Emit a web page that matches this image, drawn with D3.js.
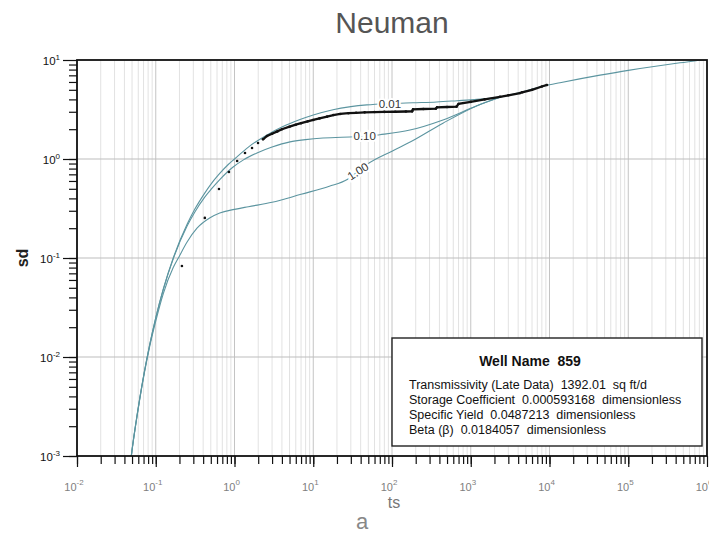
<!DOCTYPE html>
<html>
<head>
<meta charset="utf-8">
<script src="https://cdn.jsdelivr.net/npm/d3@7"></script>
<style>
  html, body { margin: 0; padding: 0; background: #fff; }
  svg { display: block; font-family: 'Liberation Sans', Arial, sans-serif; }
</style>
</head>
<body>
<svg id="chart" width="709" height="535"></svg>
<script>
// Neuman type curves
const beta001Ts = [0.048, 0.05, 0.0556, 0.0625, 0.0714, 0.0833, 0.1, 0.125, 0.1667, 0.25, 0.3125, 0.4167, 0.5, 0.625, 0.833, 1.0, 1.5, 2.59, 4, 6.79, 10, 17.8, 30, 48, 94, 185, 370, 670, 1200, 2350]
const beta001Sd = [0.00089, 0.00115, 0.00207, 0.00378, 0.00697, 0.013, 0.0249, 0.0489, 0.1, 0.219, 0.31, 0.45, 0.555, 0.69, 0.88, 1.0, 1.32, 1.75, 2.1, 2.5, 2.78, 3.15, 3.38, 3.52, 3.63, 3.7, 3.77, 3.88, 4.0, 4.2]

const beta010Ts = [0.048, 0.05, 0.0625, 0.0833, 0.1, 0.125, 0.1667, 0.25, 0.3125, 0.4167, 0.5, 0.65, 0.96, 1.3, 1.93, 3.0, 5.07, 8.0, 13.3, 29, 45, 70, 169, 444, 1200, 2350]
const beta010Sd = [0.00089, 0.00115, 0.0038, 0.013, 0.0248, 0.0485, 0.098, 0.21, 0.29, 0.41, 0.49, 0.62, 0.83, 0.98, 1.15, 1.32, 1.49, 1.57, 1.63, 1.67, 1.69, 1.76, 1.96, 2.48, 3.45, 4.2]

const beta100Ts = [0.048, 0.05, 0.0625, 0.0833, 0.1, 0.125, 0.1667, 0.2, 0.25, 0.334, 0.489, 0.65, 1.0, 1.5, 3.0, 7.0, 16, 27, 37, 48, 100, 175, 444, 1200, 2350]
const beta100Sd = [0.00089, 0.00114, 0.0037, 0.0125, 0.023, 0.044, 0.08, 0.105, 0.145, 0.2, 0.255, 0.285, 0.31, 0.33, 0.365, 0.44, 0.53, 0.62, 0.75, 0.88, 1.2, 1.5, 2.3, 3.45, 4.2]

// shared late-time branch
const lateTs = [2350, 4220, 8770, 13600, 43800, 1e5, 1.41e5, 4.54e5, 8.5e5, 1e6]
const lateSd = [4.2, 4.7, 5.5, 5.9, 7.03, 7.86, 8.2, 9.37, 10.0, 10.2]

// observed drawdown (Well 859)
const obsTs = [0.215, 0.42, 0.635, 0.85, 1.08, 1.36, 1.67, 1.99, 2.3, 2.59, 3.0, 3.5, 4.0, 5.0, 6.0, 7.0, 8.5, 10, 12, 15, 18, 22, 28, 35, 45, 60, 80, 110, 150, 180, 185, 250, 360, 373, 500, 660, 700, 1000, 1500, 2350, 3000, 4220, 4500, 6000, 8000, 9300]
const obsSd = [0.083, 0.254, 0.498, 0.74, 0.955, 1.15, 1.29, 1.45, 1.58, 1.71, 1.8, 1.9, 2.0, 2.12, 2.22, 2.3, 2.4, 2.48, 2.57, 2.68, 2.78, 2.85, 2.9, 2.93, 2.96, 2.98, 2.99, 3.0, 3.02, 3.03, 3.18, 3.2, 3.22, 3.33, 3.35, 3.38, 3.6, 3.78, 4.0, 4.25, 4.4, 4.64, 4.72, 5.0, 5.4, 5.6]

const curveLabels = ['0.01', '0.10', '1.00']
const labelTs = [94, 45, 37]

const xTickExp = [-2, -1, 0, 1, 2, 3, 4, 5, 6]
const yTickExp = [-3, -2, -1, 0, 1]

const legendTitle = 'Well Name  859'
const legendLines = [
  'Transmissivity (Late Data)  1392.01  sq ft/d',
  'Storage Coefficient  0.000593168  dimensionless',
  'Specific Yield  0.0487213  dimensionless',
  'Beta (\u03B2)  0.0184057  dimensionless'
]

let svg = d3.select('#chart')
let pLeft = 77, pRight = 707, pTop = 60, pBottom = 456

let x = d3.scaleLog().domain([1e-2, 1e6]).range([pLeft, pRight])
let y = d3.scaleLog().domain([1e-3, 10]).range([pBottom, pTop])

function zip (ts, sd) { return ts.map(function (t, i) { return [t, sd[i]] }) }

let curves = [zip(beta001Ts, beta001Sd), zip(beta010Ts, beta010Sd), zip(beta100Ts, beta100Sd)]
let late = zip(lateTs, lateSd)
let obs = zip(obsTs, obsSd)

svg.append('defs').append('clipPath').attr('id', 'plot')
  .append('rect').attr('x', pLeft).attr('y', pTop).attr('width', pRight - pLeft).attr('height', pBottom - pTop)

// grid: every minor decade step vertically, decades horizontally
let minorX = []
for (let e = -2; e < 6; e++) for (let m = 1; m < 10; m++) minorX.push(m * Math.pow(10, e))
let minorY = []
for (let e = -3; e < 1; e++) for (let m = 1; m < 10; m++) minorY.push(m * Math.pow(10, e))

let grid = svg.append('g')
grid.selectAll('.vminor').data(minorX).enter().append('line')
  .attr('x1', d => x(d)).attr('x2', d => x(d)).attr('y1', pTop).attr('y2', pBottom)
  .attr('stroke', (d, i) => i % 9 === 0 ? '#c4c4c4' : '#e2e2e2').attr('stroke-width', 1)
grid.selectAll('.hmajor').data(yTickExp.slice(1, -1)).enter().append('line')
  .attr('x1', pLeft).attr('x2', pRight).attr('y1', d => y(Math.pow(10, d))).attr('y2', d => y(Math.pow(10, d)))
  .attr('stroke', '#bdbdbd').attr('stroke-width', 1.2)

// type curves
let line = d3.line().x(d => x(d[0])).y(d => y(d[1])).curve(d3.curveMonotoneX)
let plot = svg.append('g').attr('clip-path', 'url(#plot)')
plot.selectAll('.type').data(curves.concat([late])).enter().append('path')
  .attr('d', line).attr('fill', 'none').attr('stroke', '#5c95a0').attr('stroke-width', 1.1)

// observations: dense part drawn as a thick trace, plus dots
plot.append('path').datum(obs.filter(d => d[0] >= 2.3))
  .attr('d', d3.line().x(d => x(d[0])).y(d => y(d[1])))
  .attr('fill', 'none').attr('stroke', '#111').attr('stroke-width', 2.3)
plot.selectAll('.obs').data(obs).enter().append('circle')
  .attr('cx', d => x(d[0])).attr('cy', d => y(d[1])).attr('r', 1.3).attr('fill', '#111')

// curve labels with white halo over the line
function sdAt (c, t) {
  let i = d3.bisector(d => d[0]).left(c, t)
  let a = c[i - 1], b = c[i]
  let f = (Math.log(t) - Math.log(a[0])) / (Math.log(b[0]) - Math.log(a[0]))
  return Math.exp(Math.log(a[1]) + f * (Math.log(b[1]) - Math.log(a[1])))
}
curveLabels.forEach(function (lab, i) {
  let px = x(labelTs[i]), py = y(sdAt(curves[i], labelTs[i]))
  svg.append('text')
    .attr('transform', 'translate(' + px + ',' + py + ') rotate(' + (i === 2 ? -33 : 0) + ')')
    .attr('text-anchor', 'middle').attr('dy', '0.35em')
    .attr('font-size', 11.5).attr('fill', '#333')
    .attr('stroke', '#fff').attr('stroke-width', 4).attr('paint-order', 'stroke')
    .text(lab)
})

// frame
svg.append('rect').attr('x', pLeft).attr('y', pTop).attr('width', pRight - pLeft).attr('height', pBottom - pTop)
  .attr('fill', 'none').attr('stroke', '#111').attr('stroke-width', 1.8)

// axes ticks
let yMajor = yTickExp.map(e => Math.pow(10, e))
let xMajor = xTickExp.map(e => Math.pow(10, e))
svg.append('g').attr('transform', 'translate(' + pLeft + ',0)')
  .call(d3.axisLeft(y).tickValues(minorY).tickSize(8).tickFormat(''))
svg.append('g').attr('transform', 'translate(' + pLeft + ',0)')
  .call(d3.axisLeft(y).tickValues(yMajor).tickSize(14).tickFormat(''))
svg.append('g').attr('transform', 'translate(0,' + pBottom + ')')
  .call(d3.axisBottom(x).tickValues(minorX).tickSize(8).tickFormat(''))
svg.append('g').attr('transform', 'translate(0,' + pBottom + ')')
  .call(d3.axisBottom(x).tickValues(xMajor).tickSize(11).tickFormat(''))
svg.selectAll('.domain').remove()
svg.selectAll('.tick line').attr('stroke', '#111').attr('stroke-width', 1.2)

// tick labels with superscripts
let yl = svg.append('g').selectAll('text').data(yTickExp).enter().append('text')
  .attr('x', 60).attr('y', d => y(Math.pow(10, d)) + 5)
  .attr('text-anchor', 'end').attr('font-size', 11.5).attr('fill', '#111')
yl.append('tspan').text('10')
yl.append('tspan').attr('dy', -5).attr('font-size', 8).text(d => d)

let xl = svg.append('g').selectAll('text').data(xTickExp).enter().append('text')
  .attr('x', d => x(Math.pow(10, d)) - 3).attr('y', 491)
  .attr('text-anchor', 'middle').attr('font-size', 11).attr('fill', '#808080')
xl.append('tspan').text('10')
xl.append('tspan').attr('dy', -6).attr('font-size', 8).text(d => d)

// titles
svg.append('text').attr('x', 392).attr('y', 33).attr('text-anchor', 'middle')
  .attr('font-size', 30).attr('fill', '#555').text('Neuman')
svg.append('text').attr('transform', 'translate(28,258) rotate(-90)').attr('text-anchor', 'middle')
  .attr('font-size', 16).attr('font-weight', 'bold').attr('fill', '#222').text('sd')
svg.append('text').attr('x', 394).attr('y', 508).attr('text-anchor', 'middle')
  .attr('font-size', 16).attr('fill', '#777').text('ts')
svg.append('text').attr('x', 362).attr('y', 529).attr('text-anchor', 'middle')
  .attr('font-size', 22).attr('fill', '#888').text('a')

// info box
let box = svg.append('g')
box.append('rect').attr('x', 392).attr('y', 338).attr('width', 310).attr('height', 108)
  .attr('fill', '#fff').attr('stroke', '#222').attr('stroke-width', 1.4)
box.append('text').attr('x', 530).attr('y', 366).attr('text-anchor', 'middle')
  .attr('font-size', 14).attr('font-weight', 'bold').attr('fill', '#111').style('white-space', 'pre')
  .text(legendTitle)
box.selectAll('.ln').data(legendLines).enter().append('text')
  .attr('x', 409).attr('y', (d, i) => 389 + i * 15)
  .attr('font-size', 12.5).attr('fill', '#111').style('white-space', 'pre')
  .text(d => d)
</script>
</body>
</html>
